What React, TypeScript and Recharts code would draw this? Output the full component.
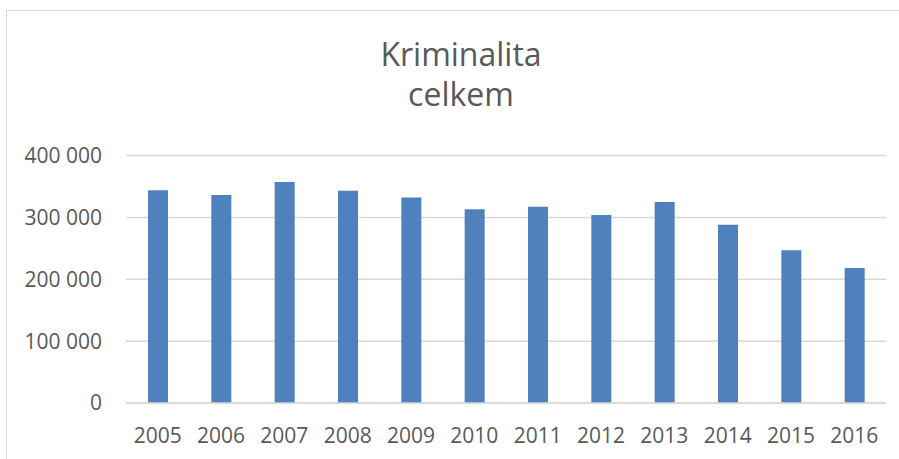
import React from "react";
import { BarChart, Bar, XAxis, YAxis, CartesianGrid } from "recharts";

const years = ["2005", "2006", "2007", "2008", "2009", "2010", "2011", "2012", "2013", "2014", "2015", "2016"];
const crimes = [344000, 336000, 357000, 343000, 332000, 313000, 317000, 304000, 325000, 288000, 247000, 218000];
const yTicks = [0, 100000, 200000, 300000, 400000];

const data = years.map((year, i) => ({ year, crimes: crimes[i] }));

const FONT = "'Open Sans', 'Liberation Sans', sans-serif";
const GREY_TEXT = "#595959";

// "400 000" style thousands separators
const fmt = (v: number) => String(v).replace(/\B(?=(\d{3})+(?!\d))/g, " ");

export default function App() {
  return (
    <div style={{ position: "absolute", left: 0, top: 0, width: 899, height: 459, overflow: "hidden", background: "#fff" }}>
      {/* chart frame, runs off the right and bottom edges */}
      <div
        style={{
          position: "absolute",
          left: 6,
          top: 10,
          width: 940,
          height: 480,
          border: "1.5px solid #d9d9d9",
        }}
      />
      <div
        style={{
          position: "absolute",
          left: 261,
          top: 34,
          width: 400,
          textAlign: "center",
          fontFamily: FONT,
          fontSize: 32,
          lineHeight: "40px",
          color: GREY_TEXT,
        }}
      >
        Kriminalita
        <br />
        celkem
      </div>
      <div style={{ position: "absolute", left: 0, top: 0 }}>
        <BarChart
          width={899}
          height={459}
          data={data}
          margin={{ top: 155.5, right: 13, bottom: 0, left: 0 }}
          barSize={20}
        >
          <CartesianGrid vertical={false} stroke="#d9d9d9" strokeWidth={1.5} />
          <XAxis
            dataKey="year"
            height={56}
            tickLine={false}
            tickSize={0}
            tickMargin={25}
            axisLine={{ stroke: "#d9d9d9", strokeWidth: 1.5 }}
            tick={{ fill: GREY_TEXT, fontSize: 21, fontFamily: FONT }}
            interval={0}
          />
          <YAxis
            width={126}
            domain={[0, 400000]}
            ticks={yTicks}
            tickFormatter={fmt}
            axisLine={false}
            tickLine={false}
            tickSize={0}
            tickMargin={24}
            tick={{ fill: GREY_TEXT, fontSize: 21, fontFamily: FONT }}
          />
          <Bar dataKey="crimes" fill="#4f81bd" isAnimationActive={false} />
        </BarChart>
      </div>
    </div>
  );
}
